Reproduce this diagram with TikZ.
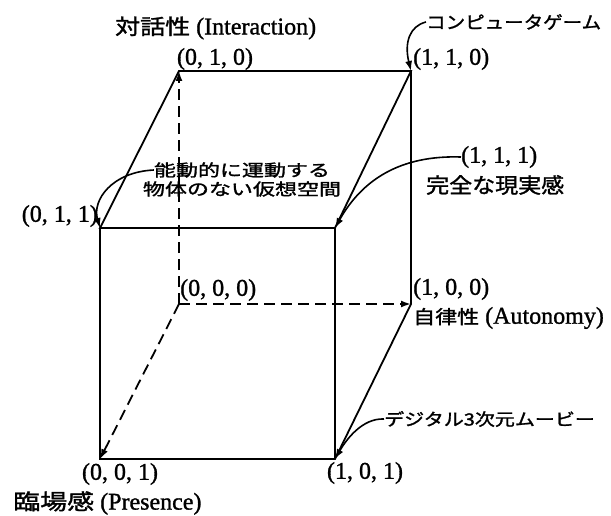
\documentclass[tikz,border=0pt]{standalone}
\usepackage{fontspec}
\setmainfont{Liberation Serif}[FakeBold=1.2]
\newfontfamily\jpfont{Noto Sans CJK JP}[FakeBold=1.4]
\newcommand{\jpflat}[2][0.85]{\scalebox{1}[#1]{\jpfont #2}}
\usetikzlibrary{arrows.meta}
\begin{document}
\begin{tikzpicture}[x=1pt,y=-1pt,
  edge/.style={line width=1.8pt},
  axis/.style={line width=1.8pt, dash pattern=on 11pt off 6pt, -{Latex[length=10pt,width=7pt]}},
  callout/.style={line width=1.6pt, -{Latex[length=10pt,width=7pt]}},
  lbl/.style={font=\fontsize{24}{26}\selectfont, inner sep=0pt},
  jp/.style={font=\fontsize{20}{23}\selectfont, inner sep=0pt}]
\useasboundingbox (0,0) rectangle (611,516);
% cube vertices
\coordinate (v010) at (179,71);
\coordinate (v110) at (411,71);
\coordinate (v011) at (100,228);
\coordinate (v111) at (335,228);
\coordinate (v000) at (179,304);
\coordinate (v100) at (411,304);
\coordinate (v001) at (100,459);
\coordinate (v101) at (335,459);
% solid edges
\draw[edge] (v010) -- (v110) -- (v111) -- (v011) -- cycle;
\draw[edge] (v110) -- (v100) -- (v101) -- (v001) -- (v011);
\draw[edge] (v111) -- (v101);
% dashed axes
\draw[axis] (v000) -- (v010);
\draw[axis] (v000) -- (v100);
\draw[axis] (v000) -- (v001);
% labels
\node[lbl, anchor=west] (tI) at (115,28) {{\fontsize{25}{26}\selectfont\jpflat{対話性}} (Interaction)};
\node[lbl] (l010) at (215,59) {(0, 1, 0)};
\node[lbl, anchor=west] (l110) at (413,59) {(1, 1, 0)};
\node[jp, anchor=west, font=\fontsize{19.5}{23}\selectfont] (tgame) at (426,22) {\jpflat[0.9]{コンピュータゲーム}};
\node[lbl, anchor=west] (l111) at (461,157) {(1, 1, 1)};
\node[jp, anchor=west, font=\fontsize{23}{26}\selectfont] (treal) at (426,185) {\jpflat[0.92]{完全な現実感}};
\node[jp, font=\fontsize{22}{24}\selectfont] (tv1) at (242,170) {\jpflat[0.75]{能動的に運動する}};
\node[jp, font=\fontsize{22}{24}\selectfont] (tv2) at (242,189) {\jpflat[0.75]{物体のない仮想空間}};
\node[lbl, anchor=east] (l011) at (98,216) {(0, 1, 1)};
\node[lbl, anchor=west] (l000) at (180,290) {(0, 0, 0)};
\node[lbl, anchor=west] (l100) at (413,289) {(1, 0, 0)};
\node[lbl, anchor=west] (tA) at (413,318) {{\fontsize{22}{24}\selectfont\jpflat{自律性}} (Autonomy)};
\node[jp, anchor=west] (tmovie) at (384,419) {\jpflat{デジタル3次元ムービー}};
\node[lbl] (l001) at (120,474) {(0, 0, 1)};
\node[lbl] (l101) at (365,473) {(1, 0, 1)};
\node[lbl, anchor=west] (tP) at (13,503) {{\fontsize{27}{28}\selectfont\jpflat[0.8]{臨場感}} (Presence)};
% callouts
\draw[callout] (tgame.west) .. controls (410,26) and (404,42) .. (v110);
\draw[callout] (l111.west) .. controls (400,155) and (362,180) .. (v111);
\draw[callout] (tv1.west) .. controls (112,172) and (92,200) .. (v011);
\draw[callout] (tmovie.west) .. controls (362,418) and (346,440) .. (v101);
\end{tikzpicture}
\end{document}
